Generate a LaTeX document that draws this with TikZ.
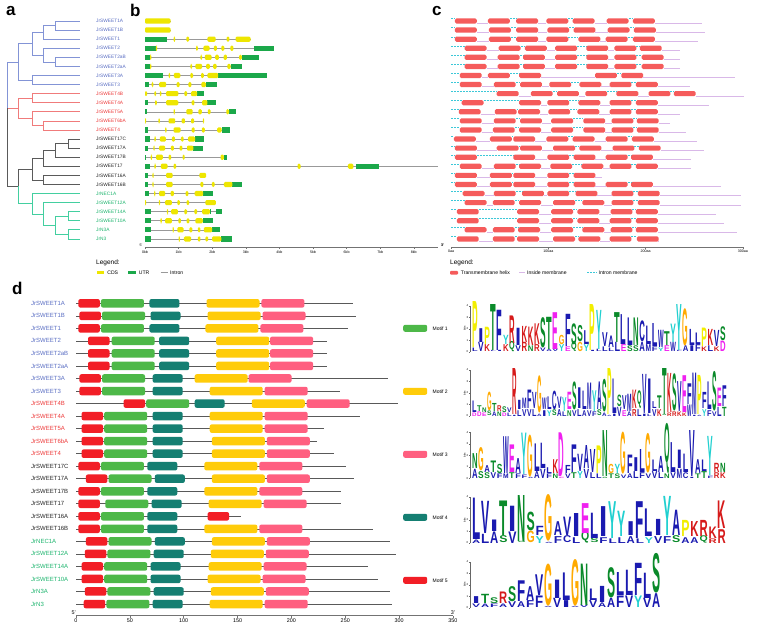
\documentclass[tikz,border=0pt]{standalone}
\usepackage{fontspec}
\setmainfont{Liberation Sans}
\setsansfont{Liberation Sans}
\usepackage{graphicx}
\usetikzlibrary{positioning}

\definecolor{cladeblue}{HTML}{5B6FC4}
\definecolor{cladered}{HTML}{EE3B3B}
\definecolor{cladegreen}{HTML}{1DB56E}
\definecolor{cladeblack}{HTML}{262626}
\definecolor{treeblue}{HTML}{8394D6}
\definecolor{treered}{HTML}{F07B7B}
\definecolor{treegrey}{HTML}{5A5A5A}
\definecolor{treegreen}{HTML}{43CFA0}
\definecolor{cdsyellow}{HTML}{EEE600}
\definecolor{utrgreen}{HTML}{1BA84A}
\definecolor{tmred}{HTML}{F55B5B}
\definecolor{tmpurple}{HTML}{D9B8E8}
\definecolor{tmcyan}{HTML}{3CC8D8}
\definecolor{motifgreen}{HTML}{4DB848}
\definecolor{motifyellow}{HTML}{FFCC0A}
\definecolor{motifpink}{HTML}{FF5F80}
\definecolor{motifteal}{HTML}{157F72}
\definecolor{motifred}{HTML}{F21E26}
\definecolor{lgblue}{HTML}{1A1AB0}
\definecolor{lggreen}{HTML}{0A8A2A}
\definecolor{lgred}{HTML}{D61A1A}
\definecolor{lgmagenta}{HTML}{F020F0}
\definecolor{lgorange}{HTML}{FFAA00}
\definecolor{lgyellow}{HTML}{F2EE00}
\definecolor{lgcyan}{HTML}{20D0D0}
\definecolor{lgpink}{HTML}{FF99CC}
\colorlet{lgA}{lgblue}\colorlet{lgC}{lgblue}\colorlet{lgF}{lgblue}\colorlet{lgI}{lgblue}
\colorlet{lgL}{lgblue}\colorlet{lgM}{lgblue}\colorlet{lgV}{lgblue}\colorlet{lgW}{lgblue}
\colorlet{lgN}{lggreen}\colorlet{lgQ}{lggreen}\colorlet{lgS}{lggreen}\colorlet{lgT}{lggreen}
\colorlet{lgK}{lgred}\colorlet{lgR}{lgred}\colorlet{lgD}{lgmagenta}\colorlet{lgE}{lgmagenta}
\colorlet{lgG}{lgorange}\colorlet{lgP}{lgyellow}\colorlet{lgY}{lgcyan}\colorlet{lgH}{lgpink}

\newcommand\jrgenes{JrSWEET1A/cladeblue,JrSWEET1B/cladeblue,JrSWEET1/cladeblue,JrSWEET2/cladeblue,JrSWEET2aB/cladeblue,JrSWEET2aA/cladeblue,JrSWEET3A/cladeblue,JrSWEET3/cladeblue,JrSWEET4B/cladered,JrSWEET4A/cladered,JrSWEET5A/cladered,JrSWEET6bA/cladered,JrSWEET4/cladered,JrSWEET17C/cladeblack,JrSWEET17A/cladeblack,JrSWEET17B/cladeblack,JrSWEET17/cladeblack,JrSWEET16A/cladeblack,JrSWEET16B/cladeblack,JrNEC1A/cladegreen,JrSWEET12A/cladegreen,JrSWEET14A/cladegreen,JrSWEET10A/cladegreen,JrN3A/cladegreen,JrN3/cladegreen}

% x0, baseline, column width, letters top/height/bottom/height
\newcommand\logostack[4]{%
  \foreach \la/\ha/\lb/\hb [count=\k] in {#4} {
    \pgfmathsetmacro\lx{#1+(\k-1)*#3}
    \pgfmathsetmacro\lw{0.9*#3}
    \pgfmathsetmacro\hbot{11.5*\hb}
    \pgfmathsetmacro\htop{11.5*\ha}
    \pgfmathsetmacro\ltop{#2-\hbot-0.4}
    \node[logo_letter, text=lg\lb] (lg#2b\k) at (\lx,#2) {\resizebox{\lw pt}{\hbot pt}{\lb}};
    \node[logo_letter, text=lg\la] (lg#2a\k) at (\lx,\ltop) {\resizebox{\lw pt}{\htop pt}{\la}};
  }}

\begin{document}
\begin{tikzpicture}[x=1pt, y=-1pt,
    every node/.style={font=\sffamily},
    panel_label/.style={font=\sffamily\bfseries\fontsize{17}{17}\selectfont, anchor=base west, inner sep=0},
    leaf_name/.style={font=\sffamily\fontsize{4.8}{5}\selectfont, anchor=west, inner sep=0},
    gene_name/.style={font=\sffamily\fontsize{6}{7}\selectfont, anchor=west, inner sep=0},
    tree_edge/.style={line width=0.75pt},
    intron/.style={draw=black!40, line width=0.6pt},
    cds/.style={fill=cdsyellow, rounded corners=1.2pt},
    utr/.style={fill=utrgreen},
    axis_line/.style={draw=black!55, line width=0.6pt},
    axis_text/.style={font=\sffamily\fontsize{3.6}{4}\selectfont, inner sep=0, anchor=north},
    axis_text_d/.style={font=\sffamily\fontsize{5.4}{6}\selectfont, inner sep=0, anchor=north},
    legend_head/.style={font=\sffamily\fontsize{6.5}{7}\selectfont, anchor=west, inner sep=0},
    legend_text/.style={font=\sffamily\fontsize{5.1}{6}\selectfont, anchor=west, inner sep=0},
    key_cds/.style={rectangle, fill=cdsyellow, minimum width=7.5pt, minimum height=3.5pt, inner sep=0},
    key_utr/.style={rectangle, fill=utrgreen, minimum width=8.5pt, minimum height=3.5pt, inner sep=0},
    key_tm/.style={rectangle, fill=tmred, rounded corners=1pt, minimum width=8pt, minimum height=3.6pt, inner sep=0},
    tm_helix/.style={fill=tmred, rounded corners=1.5pt},
    tm_inside/.style={draw=tmpurple, line width=0.6pt},
    tm_outside/.style={color=tmcyan, line width=0.8pt, dash pattern=on 2pt off 1pt},
    motif_line/.style={draw=black!65, line width=0.6pt},
    motif_box/.style={rectangle, rounded corners=2pt, minimum height=8.5pt, inner sep=0, anchor=west},
    motif_1/.style={motif_box, fill=motifgreen, minimum width=43pt},
    motif_2/.style={motif_box, fill=motifyellow, minimum width=53pt},
    motif_3/.style={motif_box, fill=motifpink, minimum width=43pt},
    motif_4/.style={motif_box, fill=motifteal, minimum width=30pt},
    motif_5/.style={motif_box, fill=motifred, minimum width=21.5pt},
    logo_letter/.style={inner sep=0, outer sep=0, anchor=south west, font=\sffamily\bfseries},
    logo_axis/.style={draw=black!60, line width=0.4pt},
    bits_text/.style={font=\sffamily\fontsize{2.8}{3}\selectfont, inner sep=0}
]
\fill[white] (0,0) rectangle (761,630);
\useasboundingbox (0,0) rectangle (761,630);

% a: tree
\node[panel_label] (lab_a) at (6,15) {a};
\foreach \gname/\gcol [count=\i from 0] in \jrgenes {
    \pgfmathsetmacro\y{21+9.08*\i}
    \coordinate (e\i) at (80,\y);
    \node[leaf_name, text=\gcol] (a\i) at (96,\y) {\gname};
}
\coordinate (t01) at (55,25.5);
\coordinate (t012) at (43,32.3);
\coordinate (t45) at (55,61.9);
\coordinate (t345) at (43,55.1);
\coordinate (tA) at (32,43.7);
\coordinate (t67) at (32,80.0);
\coordinate (tBlue) at (18,61.9);
\coordinate (t89) at (32,98.2);
\coordinate (t1112) at (43,125.4);
\coordinate (t10) at (32,118.6);
\coordinate (tRed) at (18,108.4);
\coordinate (t1314) at (68,143.6);
\coordinate (t15) at (55,150.4);
\coordinate (t16) at (43,158.3);
\coordinate (t1718) at (43,179.9);
\coordinate (tBlack) at (32,169.1);
\coordinate (t2122) at (68,216.2);
\coordinate (t2324) at (68,234.4);
\coordinate (t2124) at (55,225.3);
\coordinate (t20) at (43,213.9);
\coordinate (t19) at (32,203.7);
\coordinate (tBG) at (18,186.4);
\coordinate (tRoot) at (7,108.4);
\foreach \p/\c in {tRoot/tBlue, tBlue/tA, tBlue/t67, tA/t012, tA/t345, t012/t01, t012/e2, t01/e0, t01/e1,
    t345/e3, t345/t45, t45/e4, t45/e5, t67/e6, t67/e7}
    \draw[tree_edge, treeblue] (\p) |- (\c);
\foreach \p/\c in {tRoot/tRed, tRed/t89, tRed/t10, t89/e8, t89/e9, t10/e10, t10/t1112, t1112/e11, t1112/e12}
    \draw[tree_edge, treered] (\p) |- (\c);
\foreach \p/\c in {tRoot/tBG, tBG/tBlack, tBlack/t16, tBlack/t1718, t16/t15, t16/e16, t15/t1314, t15/e15,
    t1314/e13, t1314/e14, t1718/e17, t1718/e18}
    \draw[tree_edge, treegrey] (\p) |- (\c);
\foreach \p/\c in {tBG/t19, t19/e19, t19/t20, t20/e20, t20/t2124, t2124/t2122, t2124/t2324,
    t2122/e21, t2122/e22, t2324/e23, t2324/e24}
    \draw[tree_edge, treegreen] (\p) |- (\c);

% b: gene structures
\node[panel_label] (lab_b) at (130,16) {b};
\begin{scope}[shift={(145,0)}, x=33.6pt]
\foreach \i/\len/\utr/\ex in {
    0/0.76/{0/0}/{0/0.76},
    1/0.76/{0/0}/{0/0.76},
    2/3.14/{0/0.66}/{0.85/0.9,1.23/1.31,1.86/2.1,2.43/2.51,2.7/3.14},
    3/3.83/{0/0.32,3.24/3.83}/{0.32/0.36,1.52/1.57,1.74/1.92,2.05/2.14,2.27/2.36,2.54/2.63},
    4/3.4/{0/0.15,2.88/3.4}/{0.15/0.19,1.65/1.7,1.78/1.98,2.09/2.2,2.34/2.44,2.8/2.88},
    5/2.89/{0/0.15,2.55/2.89}/{0.15/0.19,1.35/1.4,1.5/1.7,1.82/1.93,2.03/2.13,2.45/2.55},
    6/3.62/{0/0.54,2.18/3.62}/{0.7/0.75,0.86/1.05,1.35/1.43,1.67/1.75,1.86/2.18},
    7/2.13/{0/0.12,1.81/2.13}/{0.2/0.25,0.42/0.63,0.94/1.03,1.29/1.38,1.68/1.81},
    8/1.77/{1.55/1.77}/{0/0.06,0.28/0.33,0.44/0.49,0.63/0.99,1.17/1.25,1.37/1.55},
    9/2.11/{0/0.1,1.86/2.11}/{0.3/0.35,0.63/0.99,1.39/1.47,1.7/1.86},
    10/2.71/{0/0.07,2.5/2.71}/{0.85/0.89,1.23/1.42,1.59/1.69,1.87/1.95,2.42/2.5},
    11/1.76/{0/0}/{0/0.03,0.4/0.44,0.7/0.9,1.09/1.19,1.37/1.46,1.72/1.76},
    12/2.53/{0/0.1,2.28/2.53}/{0.6/0.64,0.85/1.06,1.39/1.48,1.69/1.78,2.15/2.28},
    13/1.76/{0/0.15,1.49/1.76}/{0.28/0.32,0.44/0.62,0.8/0.89,1.07/1.15,1.28/1.49},
    14/1.72/{0/0.1,1.44/1.72}/{0.25/0.29,0.42/0.6,0.77/0.86,1.03/1.11,1.25/1.44},
    15/2.43/{0/0.02,2.35/2.43}/{0.17/0.21,0.33/0.53,0.7/0.78,1.12/1.18,2.25/2.35},
    16/8.73/{0/0.15,6.28/6.95}/{0.28/0.32,0.47/0.67,0.85/0.93,4.54/4.63,6.04/6.2},
    17/1.82/{0/0.1}/{0.22/0.26,0.63/0.82,1.62/1.82},
    18/2.88/{0/0.1,2.6/2.88}/{0.22/0.26,0.63/0.82,1.65/1.74,1.99/2.07,2.35/2.6},
    19/2.02/{0/0.12,1.73/2.02}/{0.27/0.31,0.42/0.6,0.76/0.86,1.21/1.29,1.48/1.73},
    20/2.11/{0/0}/{0/0.03,0.41/0.45,0.6/0.8,0.96/1.04,1.24/1.31,1.8/2.11},
    21/2.28/{0/0.17,1.93/1.96,2.12/2.28}/{0.65/0.69,0.78/0.98,1.17/1.25,1.47/1.55,1.7/1.93},
    22/2.01/{0/0.17,1.72/2.01}/{0.46/0.5,0.6/0.8,0.99/1.07,1.24/1.32,1.5/1.72},
    23/2.22/{0/0.17,2.0/2.22}/{0.82/0.86,0.96/1.15,1.32/1.41,1.57/1.65,1.75/2.0},
    24/2.6/{0/0.17,2.27/2.6}/{1.0/1.04,1.16/1.37,1.57/1.65,1.8/1.88,2.0/2.27}} {
    \pgfmathsetmacro\y{21+9.08*\i}
    \draw[intron] (0,\y) -- (\len,\y);
    \foreach \s/\e in \utr {\fill[utr] (\s,\y-2.6) rectangle (\e,\y+2.6);}
    \foreach \s/\e in \ex {\fill[cds] (\s,\y-2.6) rectangle (\e,\y+2.6);}
}
\draw[axis_line] (0,247.7) -- (8.73,247.7);
\foreach \t in {0,...,8} {
    \draw[axis_line] (\t,247.7) -- (\t,249.3);
    \node[axis_text] (bk\t) at (\t,250.2) {\t kb};
}
\node[axis_text, anchor=south] (b5) at (-0.12,246.5) {5'};
\node[axis_text, anchor=south] (b3) at (8.86,246.5) {3'};
\end{scope}
\node[legend_head] (bleg) at (96,263) {Legend:};
\node[key_cds] (kcds) at (100.7,272.3) {};
\node[legend_text, right=2.5pt of kcds] (tcds) {CDS};
\node[key_utr] (kutr) at (132.2,272.3) {};
\node[legend_text, right=2pt of kutr] (tutr) {UTR};
\coordinate (kint) at (160.5,272.3);
\draw[intron] (kint) -- ++(7,0) coordinate (kint2);
\node[legend_text, right=2.5pt of kint2] (tint) {Intron};

% c: transmembrane helices
\node[panel_label] (lab_c) at (432,15) {c};
\begin{scope}[shift={(451,0)}, x=0.973pt]
\foreach \i/\len/\off/\hl in {
    0/258/0/{4,38,67,98,125,160,187},
    1/261/0/{4,39,67,99,126,161,188},
    2/254/0/{4,39,67,98,131,159,187},
    3/235/0/{14,49,76,107,139,168,194},
    4/235/0/{14,48,74,107,139,168,196},
    5/235/0/{14,48,74,107,139,168,196},
    6/292/0/{9,38,70,148,175},
    7/246/0/{9,44,71,101,132,163,190},
    8/301/0/{47,82,109,138,170,203,229},
    9/265/1/{11,70,99,131,163,190},
    10/235/0/{8,45,69,100,130,163,190},
    11/225/0/{9,44,71,103,136,165,191},
    12/241/0/{9,43,70,103,136,165,191},
    13/253/0/{3,40,64,98,125,159,186},
    14/260/0/{4,47,71,105,132,166,193},
    15/247/1/{4,64,99,126,159,185},
    16/247/0/{9,44,70,102,134,163,190},
    17/155/0/{4,40,64,99,126},
    18/277/0/{4,40,64,99,126,159,185},
    19/298/0/{12,44,73,99,128,165,192},
    20/298/0/{14,43,70,105,135,165,192},
    21/272/1/{6,68,103,130,164,190},
    22/281/1/{6,68,103,130,163,190},
    23/294/0/{14,43,69,103,135,164,190},
    24/213/0/{6,43,68,105,131,163,191}} {
    \pgfmathsetmacro\y{21+9.08*\i}
    \foreach \s [count=\k, remember=\s as \prevs (initially -22.5)] in \hl {
        \pgfmathtruncatemacro\gapkind{\k==1 ? 1 : mod(\k+\off,2)}
        \ifnum\gapkind=1
            \draw[tm_outside] (\prevs+22.5,\y-2.2) -- (\s,\y-2.2);
        \else
            \draw[tm_inside] (\prevs+22.5,\y+2.2) -- (\s,\y+2.2);
        \fi
        \fill[tm_helix] (\s,\y-2.6) rectangle (\s+22.5,\y+2.6);
        \xdef\lastend{\s}
    }
    \draw[tm_inside] (\lastend+22.5,\y+2.2) -- (\len,\y+2.2);
}
\draw[axis_line] (0,247) -- (301,247);
\foreach \t in {0,100,200,300} {
    \draw[axis_line] (\t,247) -- (\t,248.8);
    \node[axis_text] (ca\t) at (\t,249.6) {\t aa};
}
\node[axis_text, anchor=south] (c3) at (-9,246.5) {3'};
\end{scope}
\node[legend_head] (cleg) at (450,263) {Legend:};
\node[key_tm] (ktm) at (454,272.7) {};
\node[legend_text, right=2.5pt of ktm] (ttm) {Transmembrane helix};
\coordinate (kin) at (519,272.7);
\draw[tm_inside] (kin) -- ++(6,0) coordinate (kin2);
\node[legend_text, right=2pt of kin2] (tin) {Inside membrane};
\coordinate (kout) at (587,272.7);
\draw[tm_outside] (kout) -- ++(10,0) coordinate (kout2);
\node[legend_text, right=1.5pt of kout2] (tout) {Intron membrane};

% d: motifs
\node[panel_label] (lab_d) at (12,294) {d};
\foreach \gname/\gcol [count=\i from 0] in \jrgenes {
    \pgfmathsetmacro\y{303.3+12.53*\i}
    \node[gene_name, text=\gcol] (d\i) at (31,\y) {\gname};
}
\begin{scope}[shift={(76,0)}, x=1.077pt]
\foreach \i/\len/\mots in {
    0/257/{5/2,1/23,4/68,2/121,3/172},
    1/260/{5/3,1/24,4/69,2/122,3/173},
    2/253/{5/2,1/23,4/68,2/120,3/171},
    3/233/{5/11,1/33,4/77,2/130,3/180},
    4/233/{5/11,1/33,4/77,2/130,3/180},
    5/233/{5/11,1/33,4/77,2/130,3/180},
    6/290/{5/3,1/24,4/71,2/110,3/160},
    7/245/{5/3,1/24,4/71,2/124,3/175},
    8/299/{5/44,1/65,4/110,2/163,3/214},
    9/264/{5/5,1/26,4/71,2/124,3/175},
    10/230/{5/5,1/26,4/71,2/124,3/175},
    11/224/{5/5,1/26,4/71,2/126,3/177},
    12/240/{5/5,1/26,4/71,2/126,3/177},
    13/251/{5/2,1/23,4/66,2/119,3/170},
    14/258/{5/9,1/30,4/73,2/126,3/177},
    15/246/{5/2,1/23,4/66,2/119,3/170},
    16/246/{5/2,1/27,4/70,2/123,3/174},
    17/153/{5/2,1/23,4/66,5/122},
    18/276/{5/2,1/23,4/66,2/119,3/170},
    19/292/{5/9,1/30,4/73,2/126,3/177},
    20/297/{5/8,1/29,4/72,2/125,3/176},
    21/271/{5/5,1/26,4/69,2/123,3/174},
    22/280/{5/5,1/26,4/69,2/122,3/173},
    23/292/{5/8,1/29,4/72,2/125,3/176},
    24/293/{5/7,1/28,4/71,2/124,3/175}} {
    \pgfmathsetmacro\y{303.3+12.53*\i}
    \draw[motif_line] (0,\y) -- (\len,\y);
    \foreach \m/\s [count=\k] in \mots {\node[motif_\m] (m\i-\k) at (\s,\y) {};}
}
\draw[axis_line] (0,615.7) -- (350,615.7);
\foreach \t in {0,50,...,350} {
    \draw[axis_line] (\t,615.7) -- (\t,617.5);
    \node[axis_text_d] (dt\t) at (\t,618.2) {\t};
}
\node[axis_text_d, anchor=south] (d5) at (-2,615) {5'};
\node[axis_text_d, anchor=south] (d3) at (350,615) {3'};
\end{scope}
\foreach \m/\y in {1/328.3, 2/391.3, 3/454.3, 4/517.3, 5/580.3} {
    \node[motif_\m, minimum width=24pt, minimum height=7pt] (key\m) at (403,\y) {};
    \node[legend_text, font=\sffamily\fontsize{5}{6}\selectfont, right=5pt of key\m] (keyt\m) {Motif \m};
}

% d: logos
\foreach \base [count=\n] in {351.7,416,478.3,543,607.7} {
    \draw[logo_axis] (470,\base) -- (470,\base-46);
    \foreach \t in {0,...,4} {
        \draw[logo_axis] (470,\base-11.5*\t) -- (468.8,\base-11.5*\t);
        \node[bits_text, anchor=east] (bt\n-\t) at (468.3,\base-11.5*\t) {\t};
    }
    \node[bits_text, rotate=90] (bits\n) at (464.5,\base-23) {bits};
}
\logostack{472}{351.7}{6.2}{P/4.0/L/0.3, I/1.2/V/0.8, P/1.5/K/0.6, T/4.0/L/0.1, F/3.5/I/0.1, Y/0.8/K/0.6,
    R/2.4/Q/0.7, I/1.5/V/0.5, K/1.4/R/0.8, K/1.6/N/0.5, K/1.8/R/0.6, S/2.6/V/0.3, T/2.8/A/0.2, E/3.2/V/0.2,
    G/0.8/Y/0.6, F/2.8/E/0.4, S/1.8/Q/0.6, S/1.4/G/0.8, L/1.2/Y/0.6, P/4.0/I/0.1, Y/3.4/L/0.2, V/1.2/L/0.4,
    A/1.0/L/0.3, T/2.6/L/0.8, L/2.6/E/0.6, L/2.4/S/0.5, N/2.4/S/0.5, C/1.8/A/0.8, L/1.6/M/0.6, L/2.0/F/0.4,
    W/1.5/Y/0.3, T/1.2/E/0.5, Y/1.6/W/0.8, Y/4.0/F/0.1, G/3.2/A/0.5, L/1.4/I/0.5, L/1.0/F/0.6, P/1.6/K/0.4,
    K/1.4/L/0.5, V/1.4/K/0.4, S/1.2/D/0.9}
\logostack{472}{416}{5.0}{L/1.0/D/0.3, T/0.5/D/0.4, N/0.4/E/0.3, G/1.6/S/0.4, T/0.7/A/0.4, R/0.5/N/0.4,
    S/0.5/D/0.3, V/0.4/L/0.3, R/4.0/I/0.1, I/0.8/L/0.5, M/0.9/V/0.6, F/1.6/V/0.6, V/1.4/L/0.6, G/3.2/A/0.2,
    W/1.0/I/0.5, L/1.1/Y/0.5, C/1.6/S/0.5, V/1.0/A/0.6, Y/1.2/L/0.4, E/1.5/N/0.5, S/2.4/V/0.5, I/1.8/L/0.6,
    L/1.6/A/0.5, M/2.3/V/0.5, Y/1.8/F/0.4, A/2.4/S/0.5, S/2.8/A/0.3, P/4.0/A/0.1, L/3.0/I/0.2, S/1.0/V/0.8,
    V/1.2/E/0.5, M/1.5/A/0.4, K/1.6/R/0.6, Q/1.2/L/0.6, V/3.4/I/0.2, I/3.0/L/0.2, L/0.6/V/0.6, T/1.1/K/0.6,
    T/4.0/S/0.1, K/3.4/R/0.3, S/3.2/R/0.4, V/2.6/K/0.4, E/3.2/K/0.3, F/1.8/W/1.0, M/3.6/I/0.1, P/3.4/A/0.1,
    F/1.4/Y/0.6, L/2.4/F/0.5, S/3.4/V/0.4, E/1.6/L/0.8, F/1.8/T/0.8}
\logostack{472}{478.3}{6.2}{N/1.3/A/0.8, G/2.0/S/0.6, A/0.6/S/0.5, T/1.0/V/0.5, S/0.8/F/0.4, W/3.2/M/0.4,
    E/2.4/T/0.5, A/1.3/F/0.4, Y/3.6/F/0.3, G/3.6/A/0.1, L/2.4/A/0.6, L/2.2/V/0.8, L/0.5/F/0.4, K/1.2/N/0.4,
    D/3.8/E/0.1, F/0.7/V/0.4, F/2.4/T/0.5, V/1.5/Y/0.6, A/2.0/V/0.8, V/2.0/L/0.5, P/2.4/L/0.4, N/4.0/S/0.1,
    G/0.8/T/0.4, Y/0.8/S/0.4, G/3.6/V/0.3, F/1.6/A/0.4, I/1.2/L/0.6, L/2.0/F/0.5, G/3.4/V/0.4, L/1.0/V/0.6,
    A/1.4/L/0.5, Q/3.4/N/0.4, L/2.6/V/0.5, I/1.6/M/0.8, L/1.6/C/0.5, V/4.0/I/0.1, A/1.2/T/0.4, L/1.0/T/0.6,
    Y/3.4/F/0.2, R/0.8/R/0.5, N/0.8/K/0.5}
\logostack{472}{543}{9.1}{L/3.6/A/0.3, V/2.8/L/0.8, I/1.0/A/1.0, T/3.0/S/0.6, I/2.2/V/1.0, N/4.0/S/0.1,
    S/1.6/G/1.0, F/0.8/Y/0.6, G/4.0/A/0.1, A/1.2/F/0.6, V/1.6/C/0.6, I/2.0/L/0.5, E/2.6/Q/0.8, L/2.2/S/0.4,
    I/2.6/F/0.5, Y/3.2/L/0.4, Y/2.2/L/0.5, I/1.2/A/0.6, F/3.2/L/0.4, L/2.4/Y/0.5, I/1.4/V/0.6, Y/3.4/F/0.6,
    A/2.2/S/0.6, P/1.4/A/0.5, K/1.3/A/0.5, R/1.4/Q/0.5, K/1.0/R/0.4, K/2.4/R/1.2}
\logostack{472}{607.7}{9.0}{I/0.6/V/0.3, T/0.8/A/0.3, S/0.5/F/0.3, R/1.0/A/0.3, S/1.3/V/0.5, F/1.8/A/0.5,
    A/1.2/F/0.6, V/1.8/F/1.0, G/3.6/A/0.1, I/1.6/V/0.8, L/2.4/I/0.6, G/4.0/A/0.1, N/3.6/V/0.2, L/1.0/V/0.6,
    I/1.4/A/0.4, S/2.6/A/0.8, L/2.0/F/1.0, L/2.2/V/1.0, F/2.8/Y/1.0, L/2.2/V/0.8, S/3.4/A/1.2}
\end{tikzpicture}
\end{document}
